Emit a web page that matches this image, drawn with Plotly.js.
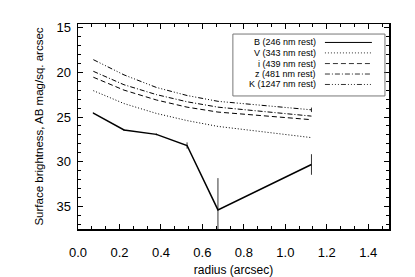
<!DOCTYPE html>
<html>
<head>
<meta charset="utf-8">
<script src="https://cdn.plot.ly/plotly-3.0.1.min.js"></script>
<style>html,body{margin:0;padding:0;background:#fff;}#chart{width:415px;height:277px;}</style>
</head>
<body>
<div id="chart"></div>
<script>
// radius (arcsec)
var radius = [0.074, 0.222, 0.378, 0.526, 0.675, 1.126];
var seriesNames = ["B (246 nm rest)", "V (343 nm rest)", "i (439 nm rest)", "z (481 nm rest)", "K (1247 nm rest)"];
var bValues = [24.57, 26.45, 26.94, 28.18, 35.37, 30.3];
var vValues = [22.06, 23.5, 24.6, 25.4, 26.05, 27.3];
var iValues = [20.56, 22.0, 23.1, 23.9, 24.45, 25.3];
var zValues = [19.9, 21.4, 22.5, 23.3, 23.9, 24.9];
var kValues = [18.6, 20.3, 21.7, 22.6, 23.25, 24.2];
var bErrors = [0.1, 0.1, 0.1, 0.35, 3.55, 1.15];
var kErrors = [0, 0, 0, 0, 0, 0.25];

var seriesValues = [bValues, vValues, iValues, zValues, kValues];
var seriesErrors = [bErrors, null, null, null, kErrors];
var dashes = ["solid", "1px,2px", "5px,3px", "5px,2px,1px,2px", "5px,2px,1px,2px,1px,2px,1px,2px"];
var widths = [1.5, 1, 1, 1, 1];

var traces = seriesValues.map(function (vals, k) {
  var t = {
    x: radius, y: vals, type: "scatter", mode: "lines",
    name: seriesNames[k], showlegend: false,
    line: {color: "#000", width: widths[k], dash: dashes[k]}
  };
  if (seriesErrors[k]) {
    t.error_y = {type: "data", array: seriesErrors[k], visible: true, width: 0, thickness: 0.8, color: "#000"};
  }
  return t;
});

// hand-built legend (text right-aligned, sample line on the right)
var rowY = [0.910, 0.859, 0.807, 0.756, 0.705];
var shapes = [{type: "rect", xref: "paper", yref: "paper", x0: 0.498, x1: 0.987, y0: 0.649, y1: 0.951,
  line: {color: "#777", width: 1}, fillcolor: "rgba(0,0,0,0)"}];
var annotations = [];
seriesNames.forEach(function (n, k) {
  annotations.push({xref: "paper", yref: "paper", x: 0.768, y: rowY[k], text: n, showarrow: false,
    xanchor: "right", yanchor: "middle", borderpad: 0,
    font: {family: "Liberation Sans, Arial, sans-serif", size: 9, color: "#000"}});
  shapes.push({type: "line", xref: "paper", yref: "paper", x0: 0.794, x1: 0.945, y0: rowY[k], y1: rowY[k],
    line: {color: "#000", width: widths[k] === 1.5 ? 1 : 0.8, dash: dashes[k]}});
});

var axisFont = {family: "Liberation Sans, Arial, sans-serif", size: 13, color: "#000"};
var layout = {
  width: 415, height: 277,
  margin: {l: 78, r: 26, t: 24, b: 48},
  paper_bgcolor: "#fff", plot_bgcolor: "#fff",
  showlegend: false,
  xaxis: {
    range: [0, 1.5], tick0: 0, dtick: 0.2, tickformat: ".1f",
    ticks: "inside", ticklen: 5, tickwidth: 1, tickcolor: "#000",
    minor: {dtick: 0.0666667, tick0: 0, ticks: "inside", ticklen: 3, tickcolor: "#000", tickwidth: 1},
    showline: true, linecolor: "#000", linewidth: 1.5, mirror: "allticks",
    showgrid: false, zeroline: false,
    tickfont: axisFont, ticklabelstandoff: 11,
    title: {text: "radius (arcsec)", font: {family: "Liberation Sans, Arial, sans-serif", size: 12, color: "#000"}, standoff: 7}
  },
  yaxis: {
    range: [37.5, 14.62], tick0: 15, dtick: 5,
    ticks: "inside", ticklen: 5, tickwidth: 1, tickcolor: "#000",
    minor: {dtick: 1, ticks: "inside", ticklen: 3, tickcolor: "#000", tickwidth: 1},
    showline: true, linecolor: "#000", linewidth: 1.5, mirror: "allticks",
    showgrid: false, zeroline: false,
    tickfont: axisFont, ticklabelstandoff: 3,
    title: {text: "Surface brightness, AB mag/sq. arcsec", font: {family: "Liberation Sans, Arial, sans-serif", size: 11.5, color: "#000"}, standoff: 10}
  },
  shapes: shapes,
  annotations: annotations
};

Plotly.newPlot("chart", traces, layout, {staticPlot: true, displayModeBar: false});
</script>
</body>
</html>
